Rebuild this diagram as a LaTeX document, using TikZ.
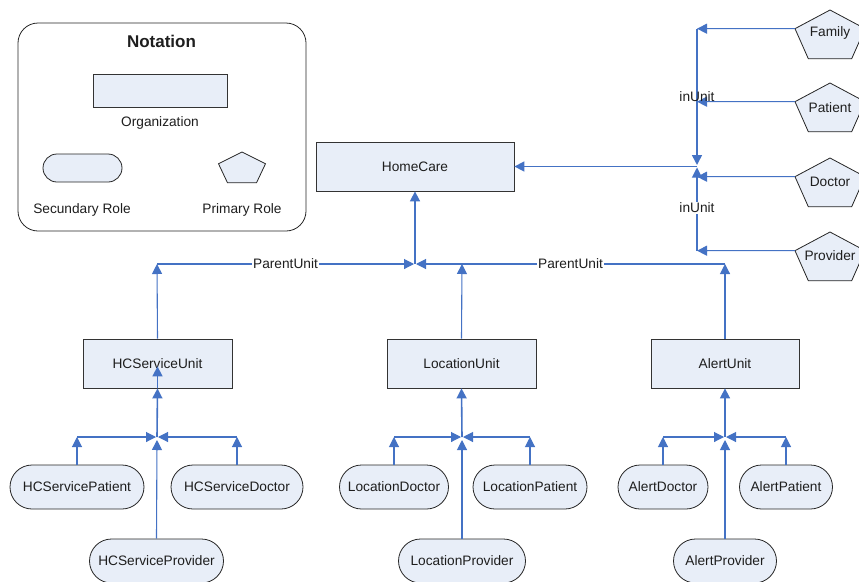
\documentclass[tikz,border=0pt]{standalone}
\usepackage{fontspec}
\setmainfont{Liberation Sans}
\usetikzlibrary{arrows.meta,shapes.misc}
\definecolor{lnblue}{RGB}{68,114,196}
\definecolor{boxfill}{RGB}{232,238,248}
\definecolor{txtcol}{RGB}{30,30,30}
\tikzset{
  every node/.style={font=\fontsize{13.7}{16}\selectfont, text=txtcol},
  org/.style={draw=black!80, fill=boxfill, line width=0.8pt, inner sep=0pt, minimum height=49pt},
  srole/.style={rounded rectangle, draw=black!85, fill=boxfill, line width=0.8pt, inner sep=0pt, minimum height=44pt},
  conn/.style={draw=lnblue, line width=1.1pt, -{Triangle[length=10pt,width=10pt]}},
  trunk/.style={conn, line width=1.6pt},
  lbl/.style={fill=white, inner sep=1pt},
  pentsty/.style={draw=black!85, fill=boxfill, line width=0.8pt},
}
\newcommand\mypent[7]{%
  \path[pentsty] ({#2},{#3-#4}) -- ({#2+#5},{#3-0.309*#4}) -- ({#2+0.618*#5},{#3+0.809*#4})
     -- ({#2-0.618*#5},{#3+0.809*#4}) -- ({#2-#5},{#3-0.309*#4}) -- cycle;
  \node (#1) at (#2,#7) {#6};
  \coordinate (#1-w) at ({#2-#5},{#3-0.309*#4});
}
\begin{document}
\begin{tikzpicture}[x=1pt,y=-1pt]
\useasboundingbox (0,0) rectangle (859,581);

% Notation legend
\draw[black!85, line width=0.8pt, rounded corners=20pt] (18,23) rectangle (306,231);
\node[font=\bfseries\fontsize{17}{20}\selectfont] (nt) at (161.5,41) {Notation};
\node[org, minimum width=134pt, minimum height=33pt] (legorg) at (160,90.5) {};
\node (legorgt) at (160,123) {Organization};
\node[srole, minimum width=79pt, minimum height=28pt] (legsr) at (82.5,168) {};
\mypent{legpr}{242}{169}{17}{23.5}{}{169}
\node (legsrt) at (82,210) {Secundary Role};
\node (legprt) at (242,210) {Primary Role};

% Organizations
\node[org, minimum width=198pt] (home) at (415,166.5) {HomeCare};
\node[org, minimum width=149pt] (hcs) at (157.5,363.5) {HCServiceUnit};
\node[org, minimum width=149pt] (loc) at (461.5,363.5) {LocationUnit};
\node[org, minimum width=148pt] (alert) at (725,363.5) {AlertUnit};

% Secondary roles
\node[srole, minimum width=134pt] (hcp) at (77,487) {HCServicePatient};
\node[srole, minimum width=132pt] (hcd) at (237,487) {HCServiceDoctor};
\node[srole, minimum width=134pt] (hcv) at (156.5,561) {HCServiceProvider};
\node[srole, minimum width=109pt] (ld) at (394,487) {LocationDoctor};
\node[srole, minimum width=114pt] (lp) at (530,487) {LocationPatient};
\node[srole, minimum width=127pt] (lv) at (462,561) {LocationProvider};
\node[srole, minimum width=90pt] (ad) at (663,487) {AlertDoctor};
\node[srole, minimum width=93pt] (ap) at (786,487) {AlertPatient};
\node[srole, minimum width=103pt] (av) at (725,561) {AlertProvider};

% Primary roles
\mypent{fam}{830}{37}{27}{35}{Family}{33}
\mypent{pat}{830}{110}{27}{35}{Patient}{108}
\mypent{doc}{830}{185}{27}{35}{Doctor}{182}
\mypent{prv}{830}{259}{27}{35}{Provider}{256}

% ParentUnit connections
\coordinate (jH) at (415,264);
\coordinate (cHL) at (157,264);
\coordinate (cHM) at (462,264);
\coordinate (cHR) at (725,264);
\draw[conn] (hcs.north) -- (cHL);
\draw[conn] (cHL) -- node[lbl] (pu1) {ParentUnit} ([xshift=-1pt]jH);
\draw[conn] (alert.north) -- (cHR);
\draw[conn] (cHR) -- node[lbl] (pu2) {ParentUnit} ([xshift=1pt]jH);
\draw[conn] (loc.north) -- (cHM);
\draw[trunk] (jH) -- (home.south);

% HCServiceUnit roles
\coordinate (jA) at (157,437);
\coordinate (cA1) at (77,437);
\coordinate (cA2) at (237,437);
\draw[trunk] (jA) -- (hcs.south);
\draw[trunk] (hcs.south) -- ([yshift=22pt]hcs.south);
\draw[conn] (hcp.north) -- (cA1);
\draw[conn] (cA1) -- ([xshift=-1pt]jA);
\draw[conn] (hcd.north) -- (cA2);
\draw[conn] (cA2) -- ([xshift=1pt]jA);
\draw[conn] (hcv.north) -- ([yshift=-3pt]jA);

% LocationUnit roles
\coordinate (jB) at (462,437);
\coordinate (cB1) at (394,437);
\coordinate (cB2) at (530,437);
\draw[trunk] (jB) -- (loc.south);
\draw[conn] (ld.north) -- (cB1);
\draw[conn] (cB1) -- ([xshift=-1pt]jB);
\draw[conn] (lp.north) -- (cB2);
\draw[conn] (cB2) -- ([xshift=1pt]jB);
\draw[conn] (lv.north) -- ([yshift=-3pt]jB);

% AlertUnit roles
\coordinate (jC) at (725,437);
\coordinate (cC1) at (663,437);
\coordinate (cC2) at (786,437);
\draw[trunk] (jC) -- (alert.south);
\draw[conn] (ad.north) -- (cC1);
\draw[conn] (cC1) -- ([xshift=-1pt]jC);
\draw[conn] (ap.north) -- (cC2);
\draw[conn] (cC2) -- ([xshift=1pt]jC);
\draw[conn] (av.north) -- ([yshift=-3pt]jC);

% inUnit bus
\coordinate (bF) at (697,28.7);
\coordinate (bP) at (697,101.7);
\coordinate (bD) at (697,176.7);
\coordinate (bV) at (697,250.7);
\coordinate (bJ) at (697,166.5);
\draw[conn] (fam-w) -- (bF);
\draw[conn] (pat-w) -- (bP);
\draw[conn] (doc-w) -- (bD);
\draw[conn] (prv-w) -- (bV);
\draw[trunk] (bF) -- ([yshift=1.5pt]bJ);
\draw[conn] (bV) -- ([yshift=-1pt]bJ);
\draw[trunk] (bJ) -- (home.east);
\node (iu1) at (697,97) {inUnit};
\node[lbl] (iu2) at (697,208) {inUnit};
\end{tikzpicture}
\end{document}
